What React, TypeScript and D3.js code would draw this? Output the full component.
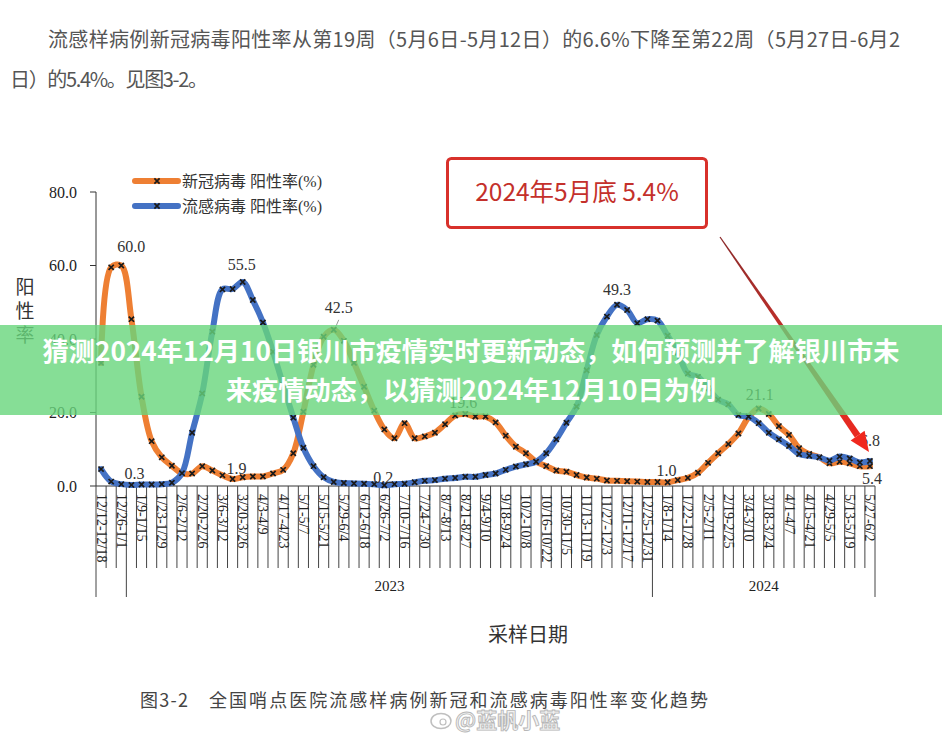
import React from 'react';
import * as d3 from 'd3';

// ---------- DATA ----------
const weekLabels: string[] = [
  '12/12-12/18', '12/19-12/25', '12/26-1/1', '1/2-1/8', '1/9-1/15', '1/16-1/22', '1/23-1/29', '1/30-2/5',
  '2/6-2/12', '2/13-2/19', '2/20-2/26', '2/27-3/5', '3/6-3/12', '3/13-3/19', '3/20-3/26', '3/27-4/2',
  '4/3-4/9', '4/10-4/16', '4/17-4/23', '4/24-4/30', '5/1-5/7', '5/8-5/14', '5/15-5/21', '5/22-5/28',
  '5/29-6/4', '6/5-6/11', '6/12-6/18', '6/19-6/25', '6/26-7/2', '7/3-7/9', '7/10-7/16', '7/17-7/23',
  '7/24-7/30', '7/31-8/6', '8/7-8/13', '8/14-8/20', '8/21-8/27', '8/28-9/3', '9/4-9/10', '9/11-9/17',
  '9/18-9/24', '9/25-10/1', '10/2-10/8', '10/9-10/15', '10/16-10/22', '10/23-10/29', '10/30-11/5', '11/6-11/12',
  '11/13-11/19', '11/20-11/26', '11/27-12/3', '12/4-12/10', '12/11-12/17', '12/18-12/24', '12/25-12/31', '1/1-1/7',
  '1/8-1/14', '1/15-1/21', '1/22-1/28', '1/29-2/4', '2/5-2/11', '2/12-2/18', '2/19-2/25', '2/26-3/3',
  '3/4-3/10', '3/11-3/17', '3/18-3/24', '3/25-3/31', '4/1-4/7', '4/8-4/14', '4/15-4/21', '4/22-4/28',
  '4/29-5/5', '5/6-5/12', '5/13-5/19', '5/20-5/26', '5/27-6/2',
];

const yearGroups = [
  { label: '', weeks: 3 },
  { label: '2023', weeks: 52 },
  { label: '2024', weeks: 22 },
];

const covidRate: number[] = [
  33.5, 59.5, 60.0, 45.4, 24.3, 12.2, 7.8, 5.5, 3.5, 3.4,
  5.4, 4.2, 2.9, 1.9, 2.4, 2.6, 2.6, 3.4, 4.4, 8.9,
  20.2, 33.0, 40.6, 42.5, 39.5, 33.5, 27.0, 20.5, 15.4, 13.0,
  17.1, 13.0, 13.5, 14.5, 16.8, 19.2, 19.6, 18.9, 18.9, 17.3,
  13.7, 10.7, 8.9, 6.6, 5.4, 4.2, 3.9, 3.0, 2.3, 2.0,
  1.5, 1.4, 1.3, 1.2, 1.1, 1.1, 1.0, 1.6, 2.2, 3.6,
  6.3, 8.9, 11.4, 14.3, 18.7, 21.1, 19.6, 16.3, 13.9, 10.3,
  8.7, 7.8, 6.2, 6.6, 6.2, 5.4, 5.4,
];

const fluRate: number[] = [
  4.6, 1.2, 0.5, 0.3, 0.4, 0.4, 0.5, 0.9, 3.5, 14.5,
  25.2, 42.0, 53.5, 53.6, 55.5, 50.6, 44.5, 36.5, 27.5, 18.6,
  10.4, 5.4, 2.4, 1.1, 0.8, 0.7, 0.6, 0.5, 0.2, 0.5,
  0.6, 1.0, 1.4, 1.6, 2.0, 2.2, 2.5, 2.5, 3.0, 3.4,
  4.4, 5.3, 5.9, 6.6, 8.9, 12.7, 17.2, 21.6, 31.5, 41.1,
  46.1, 49.3, 47.9, 44.3, 45.4, 45.0, 40.9, 36.3, 30.6, 29.7,
  26.6, 23.5, 22.2, 19.3, 18.9, 17.1, 14.5, 12.7, 10.9, 8.7,
  8.2, 7.8, 6.9, 8.0, 7.5, 6.4, 6.8,
];

const yTicks: number[] = [0, 20, 40, 60, 80];

const seriesNames = ['新冠病毒 阳性率(%)', '流感病毒 阳性率(%)'];

// labelled points: [series, index]
const labelledPoints: { s: number; i: number }[] = [
  { s: 0, i: 2 }, { s: 0, i: 13 }, { s: 0, i: 23 }, { s: 0, i: 36 }, { s: 0, i: 56 }, { s: 0, i: 65 }, { s: 0, i: 76 },
  { s: 1, i: 3 }, { s: 1, i: 14 }, { s: 1, i: 28 }, { s: 1, i: 51 }, { s: 1, i: 76 },
];

const topText1 = '流感样病例新冠病毒阳性率从第19周（5月6日-5月12日）的6.6%下降至第22周（5月27日-6月2';
const topText2 = '日）的5.4%。见图3-2。';
const boxText = '2024年5月底 5.4%';
const bannerLine1 = '猜测2024年12月10日银川市疫情实时更新动态，如何预测并了解银川市未';
const bannerLine2 = '来疫情动态，以猜测2024年12月10日为例';
const xTitle = '采样日期';
const yTitle = '阳性率';
const captionNo = '图3-2';
const captionText = '全国哨点医院流感样病例新冠和流感病毒阳性率变化趋势';
const watermark = '@蓝帆小蓝';

// label offsets (layout only)
const labelOffset: Record<string, [number, number]> = {
  '0-2': [10, -14], '0-13': [4, -5], '0-23': [5, -17], '0-36': [-2, -6], '0-56': [-1, -6],
  '0-65': [1, -8], '0-76': [2, 18], '1-3': [3, -6], '1-14': [-1, -12], '1-28': [-1, -2],
  '1-51': [0, -10], '1-76': [0, -15],
};

const COLORS = ['#EE7F33', '#4472C4'];
const SERIF = "'Liberation Serif', 'Times New Roman', 'Noto Sans CJK SC', serif";
const CJK = "'Noto Sans CJK SC', 'Noto Sans', sans-serif";

export default function App() {
  const W = 942, H = 741;
  const x0 = 96, x1 = 875;
  const yBase = 486;
  const n = weekLabels.length;
  const xBand = d3.scaleBand<number>().domain(d3.range(n)).range([x0, x1]).paddingInner(0).paddingOuter(0);
  const bw = xBand.bandwidth();
  const xc = (i: number) => (xBand(i) as number) + bw / 2;
  const y = d3.scaleLinear().domain([0, 80]).range([yBase, 192]);
  const lineGen = d3.line<number>().x((_, i) => xc(i)).y((d) => y(d)).curve(d3.curveCatmullRom.alpha(0.5));
  const series = [covidRate, fluRate];

  // group boundaries
  const groupBounds: number[] = [0];
  yearGroups.forEach((g) => groupBounds.push(groupBounds[groupBounds.length - 1] + g.weeks));

  const xMark = 'M-2.6,-2.6L2.6,2.6M-2.6,2.6L2.6,-2.6';

  // arrow geometry
  const S = [720, 237], T = [869, 452];
  const len = Math.hypot(T[0] - S[0], T[1] - S[1]);
  const u = [(T[0] - S[0]) / len, (T[1] - S[1]) / len];
  const nv = [-u[1], u[0]];
  const headL = 20;
  const Hc = [T[0] - u[0] * headL, T[1] - u[1] * headL];
  const p = (b: number[], k: number) => `${b[0] + nv[0] * k},${b[1] + nv[1] * k}`;
  const shaft = `M${p(S, -0.6)}L${p(S, 0.6)}L${p(Hc, 3.4)}L${p(Hc, -3.4)}Z`;
  const head = `M${p(Hc, -8.5)}L${p(Hc, 8.5)}L${T[0]},${T[1]}Z`;

  return (
    <svg width={W} height={H} style={{ position: 'absolute', left: 0, top: 0, background: '#fff' }}>
      <defs>
        <linearGradient id="arrowGrad" gradientUnits="userSpaceOnUse" x1={S[0]} y1={S[1]} x2={T[0]} y2={T[1]}>
          <stop offset="0" stopColor="#8a2a2a" />
          <stop offset="0.5" stopColor="#c8302a" />
          <stop offset="1" stopColor="#f0281e" />
        </linearGradient>
      </defs>
      <rect x={0} y={0} width={W} height={H} fill="#fff" />

      {/* top paragraph */}
      <text x={48} y={47} fontFamily={CJK} fontSize={20} fill="#555" textLength={852} lengthAdjust="spacing">{topText1}</text>
      <text x={10} y={87} fontFamily={CJK} fontSize={20} fill="#555" textLength={198} lengthAdjust="spacing">{topText2}</text>

      {/* y axis */}
      <line x1={x0} y1={y(80)} x2={x0} y2={yBase} stroke="#333" strokeWidth={1} />
      {yTicks.map((t) => (
        <g key={t}>
          <line x1={x0 - 6} x2={x0} y1={y(t)} y2={y(t)} stroke="#333" />
          <text x={77} y={y(t) + 5.5} textAnchor="end" fontFamily={SERIF} fontSize={16} fill="#222">{t.toFixed(1)}</text>
        </g>
      ))}
      {yTitle.split('').map((c, k) => (
        <text key={k} x={25} y={294 + k * 24} textAnchor="middle" fontFamily={CJK} fontSize={19} fill="#333">{c}</text>
      ))}

      {/* x axis */}
      <line x1={x0} y1={yBase} x2={x1} y2={yBase} stroke="#333" strokeWidth={1} />
      {d3.range(n + 1).map((k) => {
        const xx = k < n ? (xBand(k) as number) : x1;
        const long = groupBounds.includes(k);
        return <line key={k} x1={xx} x2={xx} y1={yBase} y2={long ? 597 : 568} stroke="#444" strokeWidth={1} />;
      })}
      {weekLabels.map((lab, i) =>
        i % 2 === 0 ? (
          <text key={i} transform={`translate(${xc(i)},${yBase + 8}) rotate(90)`} dominantBaseline="central"
            fontFamily={SERIF} fontSize={14} fill="#222">{lab}</text>
        ) : null,
      )}
      {yearGroups.map((g, k) => {
        if (!g.label) return null;
        const a = xBand(groupBounds[k]) as number;
        const b = groupBounds[k + 1] < n ? (xBand(groupBounds[k + 1]) as number) : x1;
        return <text key={k} x={(a + b) / 2} y={591} textAnchor="middle" fontFamily={SERIF} fontSize={15} fill="#222">{g.label}</text>;
      })}
      <text x={528} y={642} textAnchor="middle" fontFamily={CJK} fontSize={20} fill="#333">{xTitle}</text>

      {/* series */}
      {series.map((s, si) => (
        <g key={si}>
          <path d={lineGen(s) || ''} fill="none" stroke={COLORS[si]} strokeWidth={6} strokeLinejoin="round" strokeLinecap="round" />
          {s.map((v, i) => (
            <path key={i} d={xMark} transform={`translate(${xc(i)},${y(v)})`} stroke="#1a1a1a" strokeWidth={1.7} fill="none" />
          ))}
        </g>
      ))}

      {/* data labels */}
      {labelledPoints.map(({ s, i }) => {
        const v = series[s][i];
        const off = labelOffset[`${s}-${i}`] || [0, -8];
        return (
          <text key={`${s}-${i}`} x={xc(i) + off[0]} y={y(v) + off[1]} textAnchor="middle" fontFamily={SERIF} fontSize={16} fill="#333">
            {v.toFixed(1)}
          </text>
        );
      })}
      <line x1={xc(23) + 5} y1={y(covidRate[23]) - 10} x2={xc(23) + 2} y2={y(covidRate[23]) - 3} stroke="#999" strokeWidth={1} />

      {/* legend */}
      {seriesNames.map((name, k) => (
        <g key={k} transform={`translate(0,${181 + k * 25})`}>
          <line x1={135} x2={178} y1={0} y2={0} stroke={COLORS[k]} strokeWidth={6} strokeLinecap="round" />
          <path d={xMark} transform="translate(157,0)" stroke="#1a1a1a" strokeWidth={1.7} />
          <text x={182} y={6} fontFamily={SERIF} fontSize={16} fill="#333">{name}</text>
        </g>
      ))}

      {/* red callout box */}
      <rect x={447.5} y={158.5} width={259} height={69} rx={4} fill="#fff" stroke="#d8312b" strokeWidth={3} />
      <text x={577} y={201} textAnchor="middle" fontFamily={CJK} fontSize={24.5} fill="#c4302b">{boxText}</text>

      {/* arrow */}
      <path d={shaft} fill="url(#arrowGrad)" />
      <path d={head} fill="#f0281e" />

      {/* banner */}
      <rect x={0} y={325} width={W} height={90} fill="rgb(104,214,124)" fillOpacity={0.8} />
      <text x={471} y={361} textAnchor="middle" fontFamily={CJK} fontWeight={700} fontSize={26.2} fill="#fff">{bannerLine1}</text>
      <text x={471} y={400} textAnchor="middle" fontFamily={CJK} fontWeight={700} fontSize={26.2} fill="#fff">{bannerLine2}</text>

      {/* caption */}
      <text x={140} y={707} fontFamily={CJK} fontSize={18} fill="#444" textLength={48} lengthAdjust="spacing">{captionNo}</text>
      <text x={209} y={707} fontFamily={CJK} fontSize={18} fill="#444" textLength={499} lengthAdjust="spacing">{captionText}</text>

      {/* watermark */}
      <g opacity={0.75}>
        <ellipse cx={441} cy={721} rx={10} ry={7.5} fill="none" stroke="#aaa" strokeWidth={1.5} />
        <circle cx={443} cy={722} r={3} fill="none" stroke="#aaa" strokeWidth={1.2} />
        <text x={455} y={728} fontFamily={CJK} fontWeight={700} fontSize={21} fill="#eee" stroke="#a0a0a0" strokeWidth={0.9}>{watermark}</text>
      </g>
    </svg>
  );
}
